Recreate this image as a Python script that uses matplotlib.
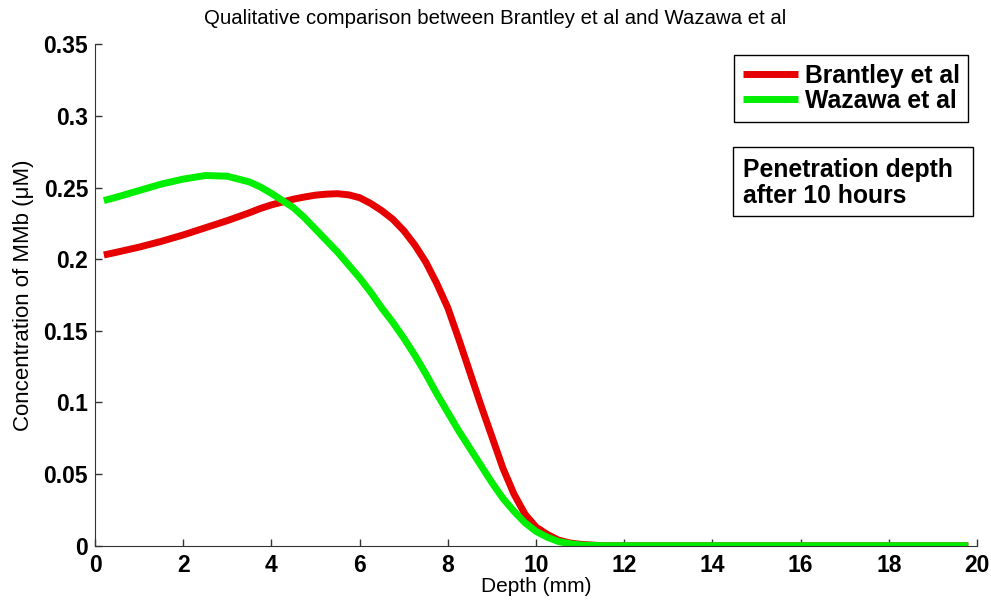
import matplotlib.pyplot as plt
from matplotlib.patches import Rectangle

# depth (mm)
depth = [0.2, 0.5, 1.0, 1.5, 2.0, 2.5, 3.0, 3.5, 3.75, 4.0, 4.25, 4.5, 4.75,
         5.0, 5.25, 5.5, 5.75, 6.0, 6.25, 6.5, 6.75, 7.0, 7.25, 7.5, 7.75,
         8.0, 8.25, 8.5, 8.75, 9.0, 9.25, 9.5, 9.75, 10.0, 10.25, 10.5,
         10.75, 11.0, 11.5, 12.0, 13.0, 14.0, 15.0, 16.0, 17.0, 18.0, 19.0,
         19.8]

brantley = [0.203, 0.205, 0.2085, 0.2125, 0.217, 0.222, 0.227, 0.2325,
            0.2355, 0.238, 0.240, 0.242, 0.2435, 0.2448, 0.2455, 0.2458,
            0.245, 0.243, 0.239, 0.234, 0.228, 0.220, 0.210, 0.198, 0.183,
            0.166, 0.144, 0.121, 0.098, 0.076, 0.054, 0.036, 0.022, 0.013,
            0.008, 0.004, 0.002, 0.001, 0.0, 0.0, 0.0, 0.0, 0.0, 0.0, 0.0,
            0.0, 0.0, 0.0]

wazawa = [0.241, 0.2435, 0.248, 0.2525, 0.256, 0.2585, 0.258, 0.254, 0.2505,
          0.246, 0.241, 0.236, 0.229, 0.221, 0.213, 0.205, 0.196, 0.187,
          0.177, 0.166, 0.156, 0.145, 0.133, 0.120, 0.106, 0.093, 0.080,
          0.068, 0.056, 0.044, 0.033, 0.024, 0.016, 0.010, 0.006, 0.003,
          0.0015, 0.0005, 0.0, 0.0, 0.0, 0.0, 0.0, 0.0, 0.0, 0.0, 0.0,
          0.0]

xticks = [0, 2, 4, 6, 8, 10, 12, 14, 16, 18, 20]
yticks = [0, 0.05, 0.1, 0.15, 0.2, 0.25, 0.3, 0.35]
ytick_labels = ['0', '0.05', '0.1', '0.15', '0.2', '0.25', '0.3', '0.35']

plt.rcParams['font.family'] = ['Liberation Sans', 'DejaVu Sans']

fig = plt.figure(figsize=(9.91, 6.01), dpi=100)
ax = fig.add_axes([0.0959, 0.092, 0.8901, 0.834])

ax.plot(depth, brantley, color='#e60000', lw=5, label='Brantley et al',
        solid_capstyle='butt', solid_joinstyle='round')
ax.plot(depth, wazawa, color='#00ee00', lw=5, label='Wazawa et al',
        solid_capstyle='butt', solid_joinstyle='round')

ax.set_xlim(0, 20)
ax.set_ylim(0, 0.35)
ax.set_xticks(xticks)
ax.set_yticks(yticks)
ax.set_yticklabels(ytick_labels)
ax.tick_params(direction='in', length=5, width=1, color='#333333',
               labelsize=16.5)
ax.tick_params(axis='x', pad=6)
ax.tick_params(axis='y', pad=5)
for lab in ax.get_xticklabels() + ax.get_yticklabels():
    lab.set_fontweight('bold')

ax.spines['top'].set_visible(False)
ax.spines['right'].set_visible(False)
ax.spines['left'].set_color('#333333')
ax.spines['bottom'].set_color('#333333')

ax.set_xlabel('Depth (mm)', fontsize=15, labelpad=0)
ax.set_ylabel('Concentration of MMb (\u03bcM)', fontsize=16, labelpad=7)
fig.suptitle('Qualitative comparison between Brantley et al and Wazawa et al',
             fontsize=14.7, x=0.5, y=0.985, va='top')

leg = ax.legend(loc='upper right', bbox_to_anchor=(0.990, 0.979),
                prop={'weight': 'bold', 'size': 17.8}, fancybox=False,
                edgecolor='black', framealpha=1, handlelength=2.25,
                handletextpad=0.25, borderpad=0.35, labelspacing=0.05,
                borderaxespad=0)
leg.get_frame().set_linewidth(1)

ax.add_patch(Rectangle((0.7234, 0.6578), 0.2721, 0.1377,
                       transform=ax.transAxes, fc='white', ec='black',
                       lw=1, zorder=5))
ax.text(0.7343, 0.7735, 'Penetration depth\nafter 10 hours',
        transform=ax.transAxes, fontsize=17.8, fontweight='bold',
        va='top', ha='left', linespacing=1.1, zorder=6)

fig.savefig('out.png', dpi=100)
